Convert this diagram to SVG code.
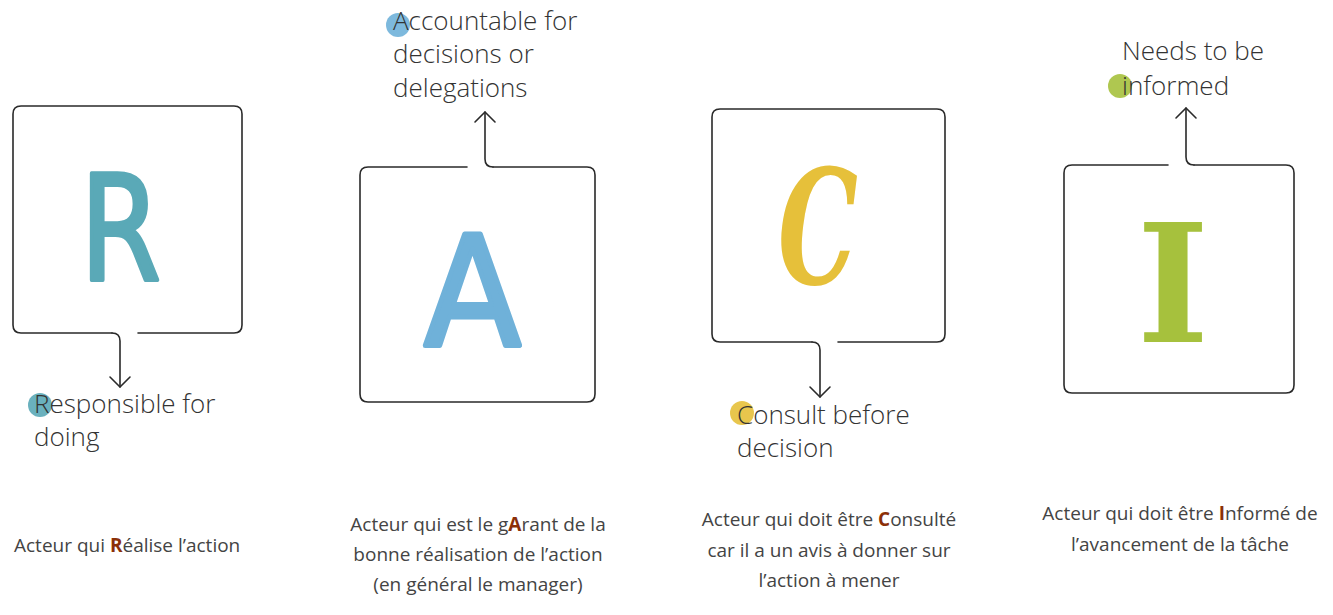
<svg xmlns="http://www.w3.org/2000/svg" width="1333" height="615" viewBox="0 0 1333 615">
<style>
.box{fill:none;stroke:#2a2a2a;stroke-width:1.6;stroke-linejoin:round;stroke-linecap:round}
.con{fill:none;stroke:#2a2a2a;stroke-width:1.6;stroke-linecap:round}
.lbl{font-family:"Open Sans","Liberation Sans",sans-serif;font-weight:300;font-size:26px;fill:#333}
.desc{font-family:"Open Sans","Liberation Sans",sans-serif;font-size:19px;fill:#444}
.hl{font-weight:bold;fill:#8b3008}
.big{font-family:"DejaVu Sans","Liberation Sans",sans-serif;stroke-linejoin:round}
</style>
<defs>
<marker id="chev" viewBox="0 0 24 24" markerWidth="24" markerHeight="24" refX="12" refY="12" orient="auto" markerUnits="userSpaceOnUse">
<path d="M2,2 L12,12 L2,22" fill="none" stroke="#2a2a2a" stroke-width="1.6" stroke-linecap="round" stroke-linejoin="round"/>
</marker>
</defs>
<rect width="1333" height="615" fill="#fff"/>

<g id="node-R">
<path class="box" d="M138,333 H234 Q242,333 242,325 V114 Q242,106 234,106 H21 Q13,106 13,114 V325 Q13,333 21,333 H112"/>
<text class="big" x="80" y="280" font-size="146" fill="#5aa9b7" stroke="#5aa9b7" stroke-width="4" textLength="81" lengthAdjust="spacingAndGlyphs">R</text>
<circle cx="40" cy="405" r="12" fill="#5aa9b7" opacity="0.9"/>
<text class="lbl" x="34" y="413">Responsible for</text>
<text class="lbl" x="34" y="446">doing</text>
<text class="desc" x="14" y="552">Acteur qui <tspan class="hl">R</tspan>éalise l’action</text>
</g>

<g id="node-A">
<path class="box" d="M467,167 H368 Q360,167 360,175 V394 Q360,402 368,402 H587 Q595,402 595,394 V175 Q595,167 587,167 H493"/>
<text class="big" x="424" y="346" font-size="154" fill="#6fb1d9" stroke="#6fb1d9" stroke-width="5" textLength="97" lengthAdjust="spacingAndGlyphs">A</text>
<circle cx="398" cy="25" r="12" fill="#6fb1d9" opacity="0.9"/>
<text class="lbl" x="393" y="30">Accountable for</text>
<text class="lbl" x="393" y="63">decisions or</text>
<text class="lbl" x="393" y="97">delegations</text>
<text class="desc" text-anchor="middle" x="478" y="531">Acteur qui est le g<tspan class="hl">A</tspan>rant de la</text>
<text class="desc" text-anchor="middle" x="478" y="561">bonne réalisation de l’action</text>
<text class="desc" text-anchor="middle" x="478" y="591">(en général le manager)</text>
</g>

<g id="node-C">
<path class="box" d="M838,342 H937 Q945,342 945,334 V117 Q945,109 937,109 H720 Q712,109 712,117 V334 Q712,342 720,342 H812"/>
<text x="778" y="284" font-family="'DejaVu Serif','Liberation Serif',serif" font-style="italic" font-weight="bold" font-size="160" fill="#e6c03a" textLength="80" lengthAdjust="spacingAndGlyphs">C</text>
<circle cx="742" cy="413" r="12" fill="#e6c03a" opacity="0.9"/>
<text class="lbl" x="737" y="424">Consult before</text>
<text class="lbl" x="737" y="457">decision</text>
<text class="desc" text-anchor="middle" x="829" y="526">Acteur qui doit être <tspan class="hl">C</tspan>onsulté</text>
<text class="desc" text-anchor="middle" x="829" y="557">car il a un avis à donner sur</text>
<text class="desc" text-anchor="middle" x="829" y="587">l’action à mener</text>
</g>

<g id="node-I">
<path class="box" d="M1168,165 H1072 Q1064,165 1064,173 V385 Q1064,393 1072,393 H1286 Q1294,393 1294,385 V173 Q1294,165 1286,165 H1194"/>
<text x="1137" y="342" font-family="'DejaVu Serif','Liberation Serif',serif" font-weight="bold" font-size="165" fill="#a6c13d" textLength="72" lengthAdjust="spacingAndGlyphs">I</text>
<circle cx="1120" cy="86" r="12" fill="#a6c13d" opacity="0.9"/>
<text class="lbl" x="1122" y="60">Needs to be</text>
<text class="lbl" x="1122" y="95">informed</text>
<text class="desc" text-anchor="middle" x="1180" y="520">Acteur qui doit être <tspan class="hl">I</tspan>nformé de</text>
<text class="desc" text-anchor="middle" x="1180" y="551">l’avancement de la tâche</text>
</g>

<g id="connectors">
<path class="con" d="M112,333 Q120,333 120,341 V387" marker-end="url(#chev)"/>
<path class="con" d="M493,167 Q485,167 485,159 V112" marker-end="url(#chev)"/>
<path class="con" d="M812,342 Q820,342 820,350 V397" marker-end="url(#chev)"/>
<path class="con" d="M1194,165 Q1186,165 1186,157 V108" marker-end="url(#chev)"/>
</g>
</svg>
